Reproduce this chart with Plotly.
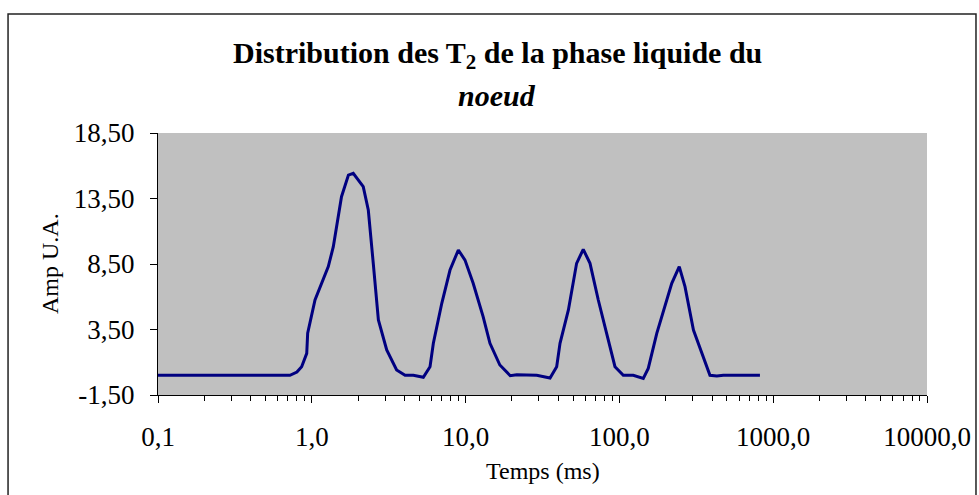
import plotly.graph_objects as go

# Temps (ms) and amplitude (U.A.)
temps_ms = [0.1, 0.3, 0.5, 0.721, 0.80, 0.859, 0.927, 0.940, 1.049, 1.28, 1.38, 1.56, 1.73, 1.86,
            2.16, 2.33, 2.51, 2.71, 3.07, 3.56, 4.04, 4.57, 5.31, 5.87, 6.17, 7.00, 7.92,
            8.97, 9.91, 11.2, 13.0, 14.4, 16.7, 19.5, 21.5, 29.0, 35.4, 39.1, 41.1, 46.6,
            52.7, 58.2, 64.4, 72.9, 82.6, 93.6, 106, 123, 143, 154, 175, 219, 245, 267,
            303, 343, 388, 430, 474, 820]
amplitude = [0.0, 0.0, 0.0, 0.0, 0.25, 0.66, 1.68, 3.21, 5.75, 8.3, 9.82, 13.64, 15.29, 15.42,
             14.4, 12.62, 8.55, 4.23, 1.94, 0.41, 0.0, 0.0, -0.15, 0.66, 2.45, 5.5, 8.04,
             9.57, 8.8, 7.03, 4.48, 2.45, 0.79, -0.03, 0.05, 0.0, -0.2, 0.66, 2.45, 4.99,
             8.55, 9.62, 8.55, 5.75, 3.21, 0.66, 0.0, 0.0, -0.23, 0.53, 3.21, 7.03, 8.3, 6.77,
             3.46, 1.68, 0.0, -0.05, 0.0, 0.0]

x_tickvals = [0.1, 1, 10, 100, 1000, 10000]
x_ticktext = ["0,1", "1,0", "10,0", "100,0", "1000,0", "10000,0"]
y_tickvals = [-1.5, 3.5, 8.5, 13.5, 18.5]
y_ticktext = ["-1,50", "3,50", "8,50", "13,50", "18,50"]

minor_vals = [m * 10 ** e for e in range(-1, 4) for m in range(2, 10)]

FONT = "Liberation Serif, Times New Roman, serif"

fig = go.Figure()
fig.add_trace(go.Scatter(x=temps_ms, y=amplitude, mode="lines",
                         line=dict(color="#000080", width=3),
                         showlegend=False))

fig.update_layout(
    width=979, height=495,
    margin=dict(l=158, r=52, t=133, b=100, autoexpand=False),
    paper_bgcolor="white", plot_bgcolor="#C0C0C0",
    font=dict(family=FONT, size=27, color="black"),
    showlegend=False,
)
fig.update_xaxes(type="log", range=[-1, 4], tickmode="array", tickvals=x_tickvals,
                 ticktext=x_ticktext, showgrid=False, zeroline=False, showline=True,
                 linecolor="black", linewidth=1, ticks="outside", ticklen=7,
                 tickcolor="black", ticklabelstandoff=11, automargin=False,
                 minor=dict(tickmode="array", tickvals=minor_vals, ticks="outside",
                            ticklen=5, tickcolor="black", showgrid=False))
fig.update_yaxes(range=[-1.5, 18.5], tickmode="array", tickvals=y_tickvals,
                 ticktext=y_ticktext, showgrid=False, zeroline=False, showline=True,
                 linecolor="black", linewidth=1, ticks="outside", ticklen=7,
                 tickcolor="black", ticklabelstandoff=10, automargin=False)

fig.add_annotation(text="<b>Distribution des T<sub>2</sub> de la phase liquide du</b>",
                   xref="paper", yref="paper", x=0.441, y=1.2977, showarrow=False,
                   xanchor="center", yanchor="middle", font=dict(size=30))
fig.add_annotation(text="<b><i>noeud</i></b>", xref="paper", yref="paper", x=0.441,
                   y=1.145, showarrow=False, xanchor="center", yanchor="middle",
                   font=dict(size=30))
fig.add_annotation(text="Temps (ms)", xref="paper", yref="paper", x=0.5, y=-0.29,
                   showarrow=False, xanchor="center", yanchor="middle", font=dict(size=24))
fig.add_annotation(text="Amp U.A.", xref="paper", yref="paper", x=-0.1404, y=0.5,
                   showarrow=False, xanchor="center", yanchor="middle", textangle=-90,
                   font=dict(size=24))

fig.add_shape(type="rect", xref="paper", yref="paper", x0=-0.195, x1=1.0637,
              y0=-0.6, y1=1.454, line=dict(color="#222222", width=1.5),
              fillcolor="rgba(0,0,0,0)", layer="below")

fig.write_html("out.html", config={"displayModeBar": False},
               post_script="document.body.style.margin='0';document.body.style.padding='0';")
